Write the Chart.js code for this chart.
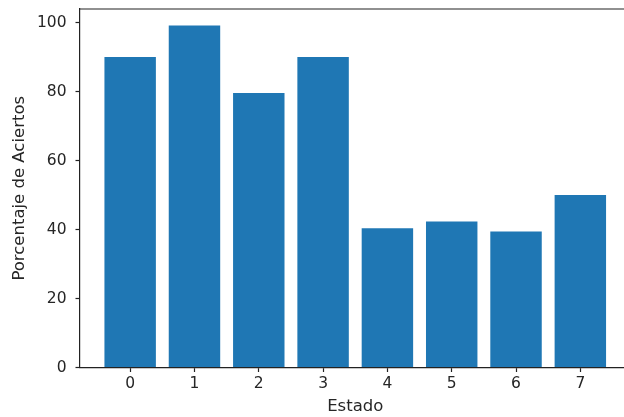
<!DOCTYPE html>
<html>
<head>
<meta charset="utf-8">
<script src="https://cdn.jsdelivr.net/npm/chart.js@4/dist/chart.umd.min.js"></script>
<style>
  html, body { margin: 0; padding: 0; background: #fff; overflow: hidden; }
  #wrap { width: 624px; height: 417px; overflow: hidden; position: relative; }
  canvas { display: block; }
</style>
</head>
<body>
<div id="wrap"><canvas id="c" width="640" height="417" style="width:640px;height:417px"></canvas></div>
<script>
// Estado index and hit percentage per state
const estados = [0, 1, 2, 3, 4, 5, 6, 7];
const porcentajes = [90, 99.2, 79.6, 90, 40.4, 42.3, 39.4, 50];
const yTicks = [0, 20, 40, 60, 80, 100];

const FAMILY = '"DejaVu Sans", sans-serif';
const TICK_FONT = { family: FAMILY, size: 15.5 };
const TITLE_FONT = { family: FAMILY, size: 16.5 };
const INK = '#262626';
const SPINE = '#222';

// Top spine of the plot box (left and bottom come from the axes)
const framePlugin = {
  id: 'frame',
  afterDraw(chart) {
    const { ctx, chartArea: a } = chart;
    ctx.save();
    ctx.strokeStyle = SPINE;
    ctx.lineWidth = 1.2;
    ctx.beginPath();
    ctx.moveTo(a.left, a.top);
    ctx.lineTo(a.right, a.top);
    ctx.stroke();
    ctx.restore();
  }
};

const tickGrid = { display: true, offset: false, drawOnChartArea: false, drawTicks: true, tickLength: 4.5, color: SPINE, tickWidth: 1.2 };

new Chart(document.getElementById('c'), {
  type: 'bar',
  data: {
    datasets: [{
      data: estados.map((e, i) => ({ x: e, y: porcentajes[i] })),
      backgroundColor: '#1f77b4',
      borderWidth: 0,
      categoryPercentage: 1.0,
      barPercentage: 0.8
    }]
  },
  plugins: [framePlugin],
  options: {
    responsive: false,
    animation: false,
    devicePixelRatio: 1,
    layout: { padding: { top: 9, right: 9.5, left: 0, bottom: 0 } },
    plugins: { legend: { display: false }, tooltip: { enabled: false } },
    scales: {
      x: {
        type: 'linear',
        min: -0.78,
        max: 7.78,
        offset: false,
        afterFit(s) { s.height = 49.5; s.paddingLeft = 0; s.paddingRight = 0; },
        afterBuildTicks(s) { s.ticks = estados.map(v => ({ value: v })); },
        ticks: { font: TICK_FONT, color: INK, padding: 3 },
        grid: tickGrid,
        border: { display: true, color: SPINE, width: 1.2 },
        title: { display: true, text: 'Estado', font: TITLE_FONT, color: INK, padding: { top: 0, bottom: 0 } }
      },
      y: {
        min: 0,
        max: 103.95,
        afterFit(s) { s.width = 80; s.paddingTop = 0; s.paddingBottom = 0; },
        afterBuildTicks(s) { s.ticks = yTicks.map(v => ({ value: v })); },
        ticks: { font: TICK_FONT, color: INK, padding: 9 },
        grid: tickGrid,
        border: { display: true, color: SPINE, width: 1.2 },
        title: { display: true, text: 'Porcentaje de Aciertos', font: TITLE_FONT, color: INK, padding: { top: 10, bottom: 0 } }
      }
    }
  }
});
</script>
</body>
</html>
